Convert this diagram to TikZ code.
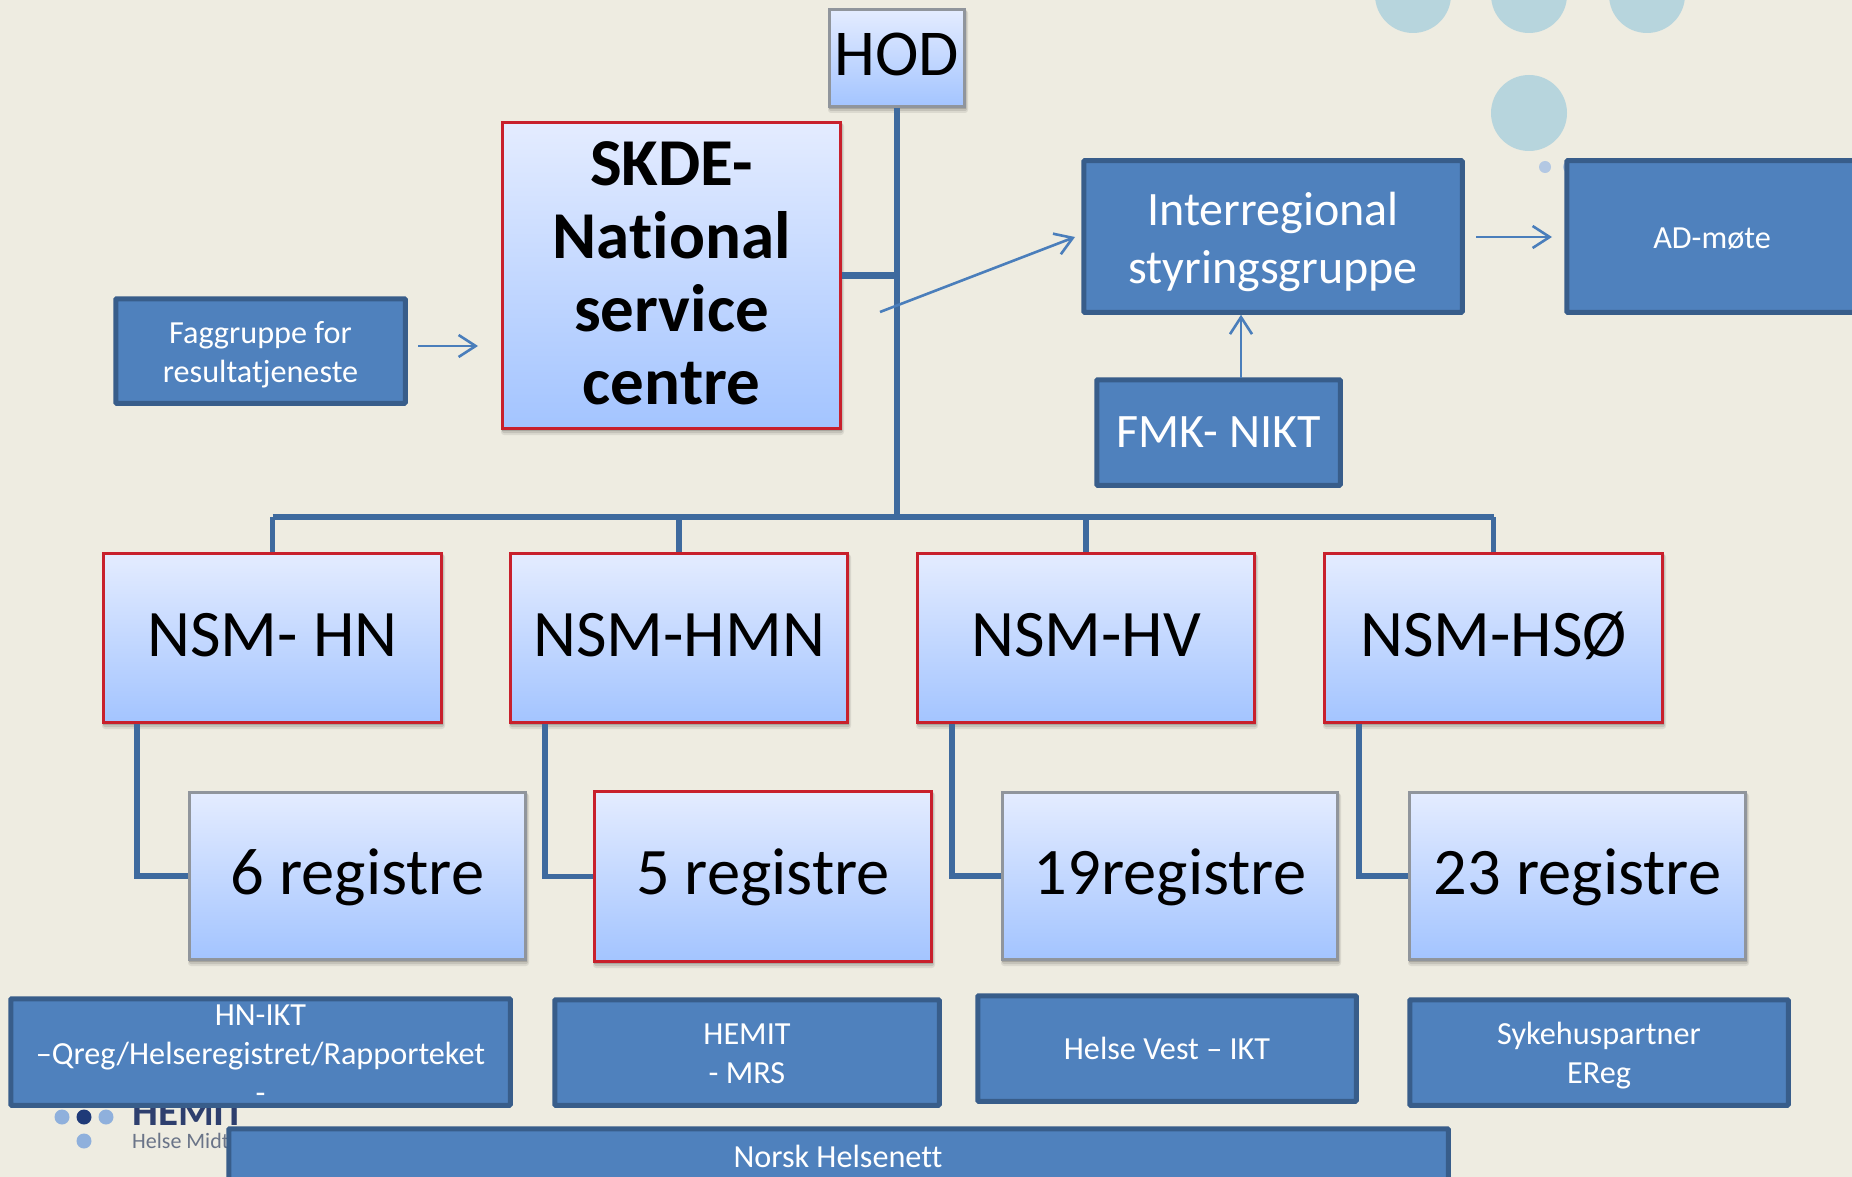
\documentclass[tikz,border=0pt]{standalone}
\usepackage{fontspec}
\setmainfont{Carlito}[Ligatures=NoCommon]
\usetikzlibrary{arrows.meta,calc}
\definecolor{bgc}{HTML}{EEECE1}
\definecolor{bluefill}{HTML}{4F81BD}
\definecolor{blueedge}{HTML}{385D8A}
\definecolor{linkc}{HTML}{3E6A9E}
\definecolor{thinc}{HTML}{4A7EBB}
\definecolor{gradtop}{HTML}{E4ECFF}
\definecolor{gradbot}{HTML}{A3C4FF}
\definecolor{redc}{HTML}{C8202C}
\definecolor{grayc}{HTML}{90959C}
\definecolor{circc}{HTML}{B7D5DD}
\definecolor{dotc}{HTML}{B3C8E3}
\definecolor{logolight}{HTML}{8FB0DC}
\definecolor{logodark}{HTML}{1F3A78}
\definecolor{logotxt}{HTML}{2E3F6E}
\definecolor{logosub}{HTML}{6A7488}
\tikzset{
  gradbox/.style={rectangle,top color=gradtop,bottom color=gradbot,text=black,inner sep=0pt,align=center},
  redbox/.style={gradbox,draw=redc,line width=3pt},
  graybox/.style={gradbox,draw=grayc,line width=3pt},
  bluebox/.style={rectangle,fill=bluefill,draw=blueedge,line width=5pt,text=white,inner sep=0pt,align=center,rounded corners=1pt},
  trunk/.style={draw=linkc,line width=6.5pt},
  drop/.style={draw=linkc,line width=5.5pt},
  thinarrow/.style={draw=thinc,line width=2.6pt,-{Straight Barb[length=17pt,width=22pt,line width=2.6pt]}},
  bigtext/.style={font=\fontsize{66.5}{73}\selectfont,text height=44pt,text depth=8pt},
  boldtext/.style={font=\fontsize{67}{73}\selectfont\bfseries},
  midtext/.style={font=\fontsize{48}{58}\selectfont},
  smalltext/.style={font=\fontsize{32.2}{39}\selectfont},
  circ/.style={circle,fill=circc,draw=none,minimum size=76pt,inner sep=0pt},
  smalldot/.style={circle,fill=dotc,draw=none,minimum size=12pt,inner sep=0pt},
  logodot/.style={circle,fill=#1,draw=none,inner sep=0pt,minimum size=15pt},
  logotext/.style={text=#1,inner sep=0pt,anchor=base west},
}
\newcommand{\bx}[7]{%
  \pgfmathsetmacro{\bxcx}{(#3+#5)/2}\pgfmathsetmacro{\bxcy}{(#4+#6)/2}%
  \pgfmathsetmacro{\bxw}{#5-#3-1}\pgfmathsetmacro{\bxh}{#6-#4-1}%
  \node[#2,minimum width=\bxw pt,minimum height=\bxh pt] (#1) at (\bxcx,\bxcy) {#7};%
}
\newcommand{\bxb}[7]{%
  \pgfmathsetmacro{\bxcx}{(#3+#5)/2}\pgfmathsetmacro{\bxcy}{(#4+#6)/2}%
  \pgfmathsetmacro{\bxw}{#5-#3-3.5}\pgfmathsetmacro{\bxh}{#6-#4-3.5}%
  \node[#2,minimum width=\bxw pt,minimum height=\bxh pt] (#1) at (\bxcx,\bxcy) {#7};%
}
% soft shadow under a light box
\newcommand{\sh}[4]{%
  \fill[black,opacity=.08,rounded corners=3pt] (#1-1,#2+1) rectangle (#3+3,#4+6);
  \fill[black,opacity=.10,rounded corners=2pt] (#1,#2+1) rectangle (#3+2,#4+4);
  \fill[black,opacity=.14] (#1,#2+1) rectangle (#3+1,#4+2);
}
\begin{document}
\begin{tikzpicture}[x=1pt,y=-1pt]
\useasboundingbox (0,0) rectangle (1852,1177);
\clip (0,0) rectangle (1852,1177);
\fill[bgc] (0,0) rectangle (1852,1177);
% decorative circles
\node[circ] (c1) at (1413,-5) {};
\node[circ] (c2) at (1529,-5) {};
\node[circ] (c3) at (1647,-5) {};
\node[circ] (c4) at (1529,113) {};
\node[smalldot] (d1) at (1545,167) {};
\node[smalldot] (d2) at (1569,167) {};
% logo behind the boxes
\node[logodot=logolight] (l1) at (62,1117) {};
\node[logodot=logodark] (l2) at (84,1117) {};
\node[logodot=logolight] (l3) at (106,1117) {};
\node[logodot=logolight] (l4) at (84,1141) {};
\node[logotext=logotxt,font=\fontsize{41}{44}\selectfont\bfseries] (hemit) at (132,1125) {HEMIT};
\node[logotext=logosub,font=\fontsize{22}{26}\selectfont] (helse) at (132,1148) {Helse Midt};
% shadows
\sh{829}{9}{965}{107}
\sh{502}{122}{841}{429}
\sh{103}{553}{442}{723}
\sh{510}{553}{848}{723}
\sh{917}{553}{1255}{723}
\sh{1324}{553}{1663}{723}
\sh{189}{792}{526}{960}
\sh{594}{791}{932}{962}
\sh{1002}{792}{1338}{960}
\sh{1409}{792}{1746}{960}
% boxes
\bx{hod}{graybox,font=\fontsize{65.5}{72}\selectfont,text height=44pt,text depth=9pt}{829}{9}{965}{107}{HOD}
\bx{skde}{redbox,boldtext}{502}{122}{841}{429}{SKDE-\\National\\service\\centre\rule[-5pt]{0pt}{5pt}}
\bxb{fag}{bluebox,smalltext}{114}{297}{407}{405}{\rule{0pt}{30pt}Faggruppe for\\resultatjeneste}
\bxb{inter}{bluebox,midtext}{1082}{159}{1464}{314}{\rule{0pt}{45pt}Interregional\\styringsgruppe}
\bxb{ad}{bluebox,smalltext}{1565}{159}{1880}{314}{}
\node[smalltext,text=white] (adt) at (1712,239) {AD-møte};
\bxb{fmk}{bluebox,midtext}{1095}{378}{1342}{487}{FMK- NIKT}
\coordinate (bus) at (897,517);
\bx{nsmhn}{redbox,bigtext}{103}{553}{442}{723}{NSM- HN}
\bx{nsmhmn}{redbox,bigtext}{510}{553}{848}{723}{NSM-HMN}
\bx{nsmhv}{redbox,bigtext}{917}{553}{1255}{723}{NSM-HV}
\bx{nsmhso}{redbox,bigtext}{1324}{553}{1663}{723}{NSM-HSØ}
\bx{reg1}{graybox,bigtext}{189}{792}{526}{960}{6 registre}
\bx{reg2}{redbox,bigtext}{594}{791}{932}{962}{5 registre}
\bx{reg3}{graybox,bigtext}{1002}{792}{1338}{960}{19registre}
\bx{reg4}{graybox,bigtext}{1409}{792}{1746}{960}{23 registre}
% connectors
\draw[trunk] (hod.south) -- (hod.south |- bus);
\draw[trunk] (skde.east) -- (skde.east -| hod.south);
\draw[trunk] (nsmhn.north |- bus) -- (nsmhso.north |- bus);
\draw[drop] (nsmhn.north) -- (nsmhn.north |- bus);
\draw[drop] (nsmhmn.north) -- (nsmhmn.north |- bus);
\draw[drop] (nsmhv.north) -- (nsmhv.north |- bus);
\draw[drop] (nsmhso.north) -- (nsmhso.north |- bus);
\draw[drop] ([xshift=35pt]nsmhn.south west) |- (reg1.west);
\draw[drop] ([xshift=36pt]nsmhmn.south west) |- (reg2.west);
\draw[drop] ([xshift=36pt]nsmhv.south west) |- (reg3.west);
\draw[drop] ([xshift=36pt]nsmhso.south west) |- (reg4.west);
% thin arrows
\coordinate (a1s) at (880,312);
\coordinate (a1e) at (1075,237);
\draw[thinarrow] (a1s) -- (a1e);
\coordinate (a2s) at (418,346);
\coordinate (a2e) at (478,346);
\draw[thinarrow] (a2s) -- (a2e);
\coordinate (a3s) at (1476,237);
\coordinate (a3e) at (1552,237);
\draw[thinarrow] (a3s) -- (a3e);
\coordinate (a4s) at (1241,378);
\draw[thinarrow] (a4s) -- (a4s |- inter.south);
% bottom boxes
\bxb{hnikt}{bluebox,smalltext}{9}{997}{512}{1107}{\rule{0pt}{24pt}HN-IKT\\–Qreg/Helseregistret/Rapporteket\\-}
\bxb{hemitb}{bluebox,smalltext}{553}{998}{941}{1107}{\rule{0pt}{24pt}HEMIT\\- MRS}
\bxb{hv}{bluebox,smalltext}{976}{994}{1358}{1103}{Helse Vest – IKT}
\bxb{syk}{bluebox,smalltext}{1408}{998}{1790}{1107}{\rule{0pt}{29pt}Sykehuspartner\\EReg}
\bxb{norsk}{bluebox,smalltext}{227}{1127}{1450}{1215}{}
\node[smalltext,text=white] (nt) at (838,1156) {Norsk Helsenett};
\end{tikzpicture}
\end{document}
